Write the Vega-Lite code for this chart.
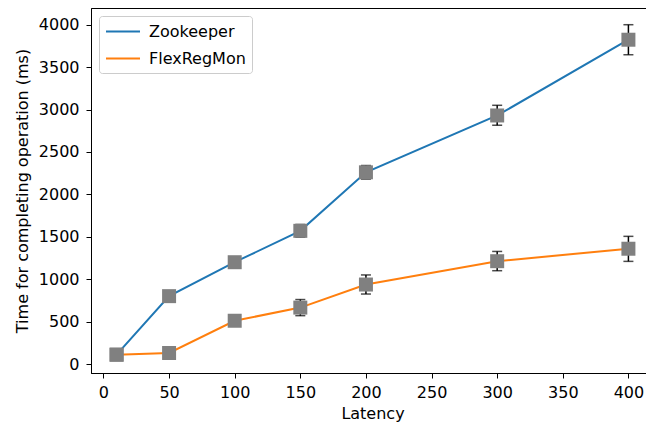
{
  "$schema": "https://vega.github.io/schema/vega-lite/v6.json",
  "autosize": "none",
  "padding": {"left": 91, "top": 8, "right": 0, "bottom": 54},
  "width": 563,
  "height": 365,
  "background": "white",
  "config": {
    "font": "DejaVu Sans",
    "view": {"stroke": "black", "strokeWidth": 1},
    "axis": {
      "grid": false,
      "labelFont": "DejaVu Sans",
      "titleFont": "DejaVu Sans",
      "labelFontSize": 16,
      "titleFontSize": 16,
      "titleFontWeight": "normal",
      "labelColor": "black",
      "titleColor": "black",
      "domainColor": "black",
      "tickColor": "black",
      "tickSize": 5,
      "format": "d"
    },
    "legend": {
      "labelFont": "DejaVu Sans",
      "labelFontSize": 16,
      "labelColor": "black"
    }
  },
  "data": {
    "values": [
      {"series": "Zookeeper", "latency": 10, "time": 110, "lo": 100, "hi": 120},
      {"series": "Zookeeper", "latency": 50, "time": 800, "lo": 780, "hi": 820},
      {"series": "Zookeeper", "latency": 100, "time": 1200, "lo": 1160, "hi": 1240},
      {"series": "Zookeeper", "latency": 150, "time": 1570, "lo": 1495, "hi": 1645},
      {"series": "Zookeeper", "latency": 200, "time": 2260, "lo": 2180, "hi": 2340},
      {"series": "Zookeeper", "latency": 300, "time": 2930, "lo": 2815, "hi": 3050},
      {"series": "Zookeeper", "latency": 400, "time": 3823, "lo": 3646, "hi": 4000},
      {"series": "FlexRegMon", "latency": 10, "time": 110, "lo": 100, "hi": 120},
      {"series": "FlexRegMon", "latency": 50, "time": 130, "lo": 115, "hi": 145},
      {"series": "FlexRegMon", "latency": 100, "time": 510, "lo": 470, "hi": 550},
      {"series": "FlexRegMon", "latency": 150, "time": 665, "lo": 570, "hi": 760},
      {"series": "FlexRegMon", "latency": 200, "time": 937, "lo": 825, "hi": 1050},
      {"series": "FlexRegMon", "latency": 300, "time": 1212, "lo": 1100, "hi": 1327},
      {"series": "FlexRegMon", "latency": 400, "time": 1359, "lo": 1210, "hi": 1505}
    ]
  },
  "layer": [
    {
      "mark": {"type": "line", "strokeWidth": 2},
      "encoding": {
        "x": {
          "field": "latency", "type": "quantitative",
          "scale": {"domain": [-9.5, 419.5], "nice": false, "zero": false},
          "axis": {"title": "Latency", "values": [0, 50, 100, 150, 200, 250, 300, 350, 400], "labelPadding": 6, "titlePadding": 5}
        },
        "y": {
          "field": "time", "type": "quantitative",
          "title": "Time for completing operation (ms)",
          "scale": {"domain": [-106, 4197], "nice": false, "zero": false},
          "axis": {"title": "Time for completing operation (ms)", "values": [0, 500, 1000, 1500, 2000, 2500, 3000, 3500, 4000], "labelPadding": 7, "titlePadding": 8}
        },
        "color": {
          "field": "series", "type": "nominal",
          "scale": {"domain": ["Zookeeper", "FlexRegMon"], "range": ["#1f77b4", "#ff7f0e"]},
          "legend": {
            "title": null,
            "orient": "top-left",
            "offset": 8,
            "symbolType": "M-1,0H3",
            "symbolSize": 289,
            "symbolStrokeWidth": 2,
            "symbolFillColor": "transparent",
            "labelOffset": 25,
            "rowPadding": 9,
            "padding": 6,
            "fillColor": "rgba(255,255,255,0.8)",
            "strokeColor": "#cccccc",
            "cornerRadius": 3
          }
        }
      }
    },
    {
      "mark": {"type": "errorbar", "ticks": {"size": 10, "thickness": 1.5, "color": "black"}, "rule": {"strokeWidth": 1.5, "color": "black"}, "color": "black"},
      "encoding": {
        "x": {"field": "latency", "type": "quantitative"},
        "y": {"field": "lo", "type": "quantitative", "title": "Time for completing operation (ms)"},
        "y2": {"field": "hi"}
      }
    },
    {
      "mark": {"type": "point", "shape": "square", "filled": true, "size": 196, "color": "#808080", "opacity": 1},
      "encoding": {
        "x": {"field": "latency", "type": "quantitative"},
        "y": {"field": "time", "type": "quantitative", "title": "Time for completing operation (ms)"}
      }
    }
  ]
}
